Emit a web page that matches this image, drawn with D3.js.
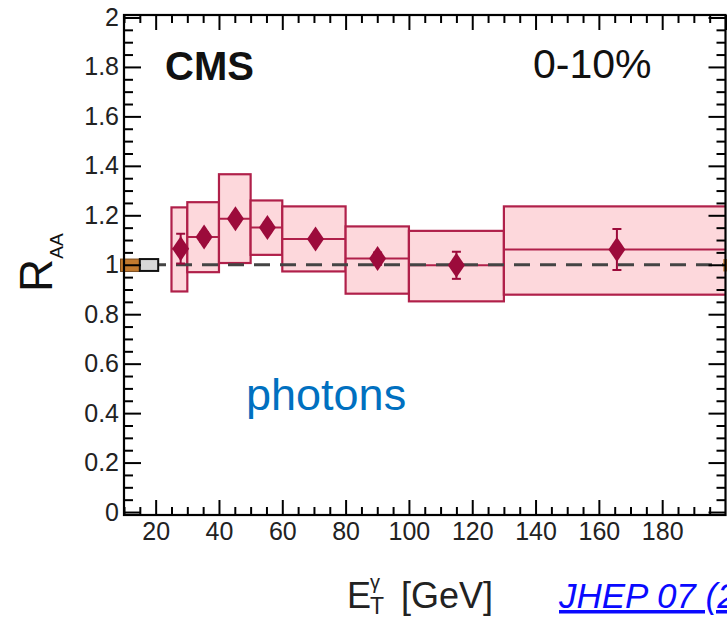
<!DOCTYPE html>
<html>
<head>
<meta charset="utf-8">
<script src="https://cdn.jsdelivr.net/npm/d3@7"></script>
<style>
  html, body { margin: 0; padding: 0; background: #fff; }
  svg { display: block; }
  text { font-family: "Liberation Sans", Arial, sans-serif; }
</style>
</head>
<body>
<svg id="chart" width="727" height="620"></svg>
<script>
// Isolated photon R_AA in PbPb, 0-10% centrality
const binEdges   = [25, 30, 40, 50, 60, 80, 100, 130, 300];
const ptPoints   = [27.9, 35.3, 45.2, 55.3, 70.5, 90.1, 115.0, 165.7];
const raaValues  = [1.065, 1.112, 1.186, 1.151, 1.104, 1.025, 0.998, 1.062];
const statErrors = [0.06, 0.02, 0.02, 0.02, 0.02, 0.025, 0.055, 0.083];
const sysLow     = [0.892, 0.970, 1.007, 1.040, 0.973, 0.883, 0.852, 0.879];
const sysHigh    = [1.232, 1.253, 1.366, 1.260, 1.236, 1.155, 1.137, 1.236];

// Global normalisation uncertainties drawn around unity
const lumiBox = [8.9, 15.0, 0.973, 1.023];   // x0, x1, lo, hi
const taaBox  = [15.0, 20.8, 0.975, 1.023];

const xMajorTicks = [20, 40, 60, 80, 100, 120, 140, 160, 180];
const yMajorTicks = [0, 0.2, 0.4, 0.6, 0.8, 1, 1.2, 1.4, 1.6, 1.8, 2];

const svg = d3.select("#chart");

const x = d3.scaleLinear().domain([10, 200]).range([124, 725.5]);
const y = d3.scaleLinear().domain([-0.012, 2.01]).range([515, 15]);

const xMinor = d3.range(10, 201, 5).filter(v => v % 20 !== 0);
const yMinor = d3.range(0, 2.001, 0.05).map(v => +v.toFixed(2))
  .filter(v => Math.abs(v * 5 - Math.round(v * 5)) > 1e-6);

const plot = svg.append("g");
svg.append("clipPath").attr("id", "clip")
  .append("rect").attr("x", x(10)).attr("y", y(2.01))
  .attr("width", x(200) - x(10)).attr("height", y(-0.012) - y(2.01));
plot.attr("clip-path", "url(#clip)");

const boxStroke = "#b0204a";
const boxFill = "#fdd8dc";
const markerColor = "#9c0b3b";

const data = ptPoints.map((p, i) => ({
  pt: p, lo: binEdges[i], hi: binEdges[i + 1],
  v: raaValues[i], stat: statErrors[i], sLo: sysLow[i], sHi: sysHigh[i]
}));

// systematic boxes
plot.selectAll("rect.sys").data(data).enter().append("rect")
  .attr("class", "sys")
  .attr("x", d => x(d.lo)).attr("width", d => x(d.hi) - x(d.lo))
  .attr("y", d => y(d.sHi)).attr("height", d => y(d.sLo) - y(d.sHi))
  .attr("fill", boxFill).attr("stroke", boxStroke).attr("stroke-width", 2.2);

// bin-width lines at the central value
plot.selectAll("line.bw").data(data).enter().append("line")
  .attr("x1", d => x(d.lo)).attr("x2", d => x(d.hi))
  .attr("y1", d => y(d.v)).attr("y2", d => y(d.v))
  .attr("stroke", boxStroke).attr("stroke-width", 2);

// unity reference line
plot.append("line")
  .attr("x1", x(10)).attr("x2", x(200)).attr("y1", y(1)).attr("y2", y(1))
  .attr("stroke", "#444").attr("stroke-width", 2.8)
  .attr("stroke-dasharray", "16,10");

// normalisation boxes
svg.append("rect")
  .attr("x", x(lumiBox[0])).attr("width", x(lumiBox[1]) - x(lumiBox[0]))
  .attr("y", y(lumiBox[3])).attr("height", y(lumiBox[2]) - y(lumiBox[3]))
  .attr("fill", "#c27a2e").attr("stroke", "#7a4a1a").attr("stroke-width", 1);
svg.append("rect")
  .attr("x", x(taaBox[0])).attr("width", x(taaBox[1]) - x(taaBox[0]))
  .attr("y", y(taaBox[3])).attr("height", y(taaBox[2]) - y(taaBox[3]))
  .attr("fill", "#d8d8d8").attr("stroke", "#111").attr("stroke-width", 2);
svg.append("rect")
  .attr("x", x(199.3)).attr("width", 6)
  .attr("y", y(lumiBox[3])).attr("height", y(lumiBox[2]) - y(lumiBox[3]))
  .attr("fill", "#c27a2e");

// statistical error bars
const eb = plot.selectAll("g.eb").data(data).enter().append("g");
eb.append("line")
  .attr("x1", d => x(d.pt)).attr("x2", d => x(d.pt))
  .attr("y1", d => y(d.v + d.stat)).attr("y2", d => y(d.v - d.stat))
  .attr("stroke", markerColor).attr("stroke-width", 2);
eb.append("line")
  .attr("x1", d => x(d.pt) - 4.5).attr("x2", d => x(d.pt) + 4.5)
  .attr("y1", d => y(d.v + d.stat)).attr("y2", d => y(d.v + d.stat))
  .attr("stroke", markerColor).attr("stroke-width", 2);
eb.append("line")
  .attr("x1", d => x(d.pt) - 4.5).attr("x2", d => x(d.pt) + 4.5)
  .attr("y1", d => y(d.v - d.stat)).attr("y2", d => y(d.v - d.stat))
  .attr("stroke", markerColor).attr("stroke-width", 2);

// diamond markers
plot.selectAll("path.mk").data(data).enter().append("path")
  .attr("transform", d => `translate(${x(d.pt)},${y(d.v)})`)
  .attr("d", "M0,-12.5L8.5,0L0,12.5L-8.5,0Z")
  .attr("fill", markerColor);

// frame and axes
const axisStyle = g => {
  g.select(".domain").remove();
  g.selectAll(".tick line").attr("stroke", "#000").attr("stroke-width", 2);
  g.selectAll(".tick text").attr("fill", "#222")
    .style("font-size", "25px").style("font-family", "'Liberation Sans', Arial, sans-serif");
};

const yFmt = v => String(+v.toFixed(1));

svg.append("g").attr("transform", `translate(${x(10)},0)`)
  .call(d3.axisLeft(y).tickValues(yMajorTicks).tickSize(-17).tickPadding(5).tickFormat(yFmt))
  .call(axisStyle);
svg.append("g").attr("transform", `translate(${x(10)},0)`)
  .call(d3.axisLeft(y).tickValues(yMinor).tickSize(-9).tickFormat(""))
  .call(axisStyle);
svg.append("g").attr("transform", `translate(${x(200)},0)`)
  .call(d3.axisRight(y).tickValues(yMajorTicks).tickSize(-17).tickFormat(""))
  .call(axisStyle);
svg.append("g").attr("transform", `translate(${x(200)},0)`)
  .call(d3.axisRight(y).tickValues(yMinor).tickSize(-9).tickFormat(""))
  .call(axisStyle);

svg.append("g").attr("transform", `translate(0,${y(-0.012)})`)
  .call(d3.axisBottom(x).tickValues(xMajorTicks).tickSize(-15).tickPadding(7).tickFormat(d3.format("d")))
  .call(axisStyle);
svg.append("g").attr("transform", `translate(0,${y(-0.012)})`)
  .call(d3.axisBottom(x).tickValues(xMinor).tickSize(-8).tickFormat(""))
  .call(axisStyle);
svg.append("g").attr("transform", `translate(0,${y(2.01)})`)
  .call(d3.axisTop(x).tickValues(xMajorTicks.concat([200])).tickSize(-15).tickFormat(""))
  .call(axisStyle);
svg.append("g").attr("transform", `translate(0,${y(2.01)})`)
  .call(d3.axisTop(x).tickValues(xMinor).tickSize(-8).tickFormat(""))
  .call(axisStyle);

svg.append("rect")
  .attr("x", x(10)).attr("y", y(2.01))
  .attr("width", x(200) - x(10)).attr("height", y(-0.012) - y(2.01))
  .attr("fill", "none").attr("stroke", "#000").attr("stroke-width", 2.2);

// in-frame labels
svg.append("text").attr("x", 165).attr("y", 80)
  .style("font-size", "40px").style("font-weight", "bold").attr("fill", "#111")
  .text("CMS");
svg.append("text").attr("x", 533).attr("y", 78)
  .style("font-size", "41px").attr("fill", "#111")
  .text("0-10%");
svg.append("text").attr("x", 246).attr("y", 410)
  .style("font-size", "45px").attr("fill", "#0070c0")
  .text("photons");

// y-axis title R_AA
const yt = svg.append("text").attr("transform", "translate(52,292) rotate(-90)")
  .attr("fill", "#111");
yt.append("tspan").style("font-size", "46px").text("R");
yt.append("tspan").attr("dy", 11).style("font-size", "19px").text("AA");

// x-axis title E_T^γ [GeV]
svg.append("text").attr("x", 347).attr("y", 608)
  .style("font-size", "36px").attr("fill", "#222").text("E");
svg.append("text").attr("x", 370).attr("y", 589)
  .style("font-size", "20px").attr("fill", "#222").text("γ");
svg.append("text").attr("x", 370).attr("y", 614)
  .style("font-size", "23px").attr("fill", "#222").text("T");
svg.append("text").attr("x", 401).attr("y", 608)
  .style("font-size", "36px").attr("fill", "#222").text("[GeV]");

// journal reference
svg.append("text").attr("x", 559).attr("y", 608)
  .style("font-size", "35px").style("font-style", "italic")
  .style("text-decoration", "underline")
  .attr("fill", "#0a0aff").text("JHEP 07 (2020) 116");
</script>
</body>
</html>
